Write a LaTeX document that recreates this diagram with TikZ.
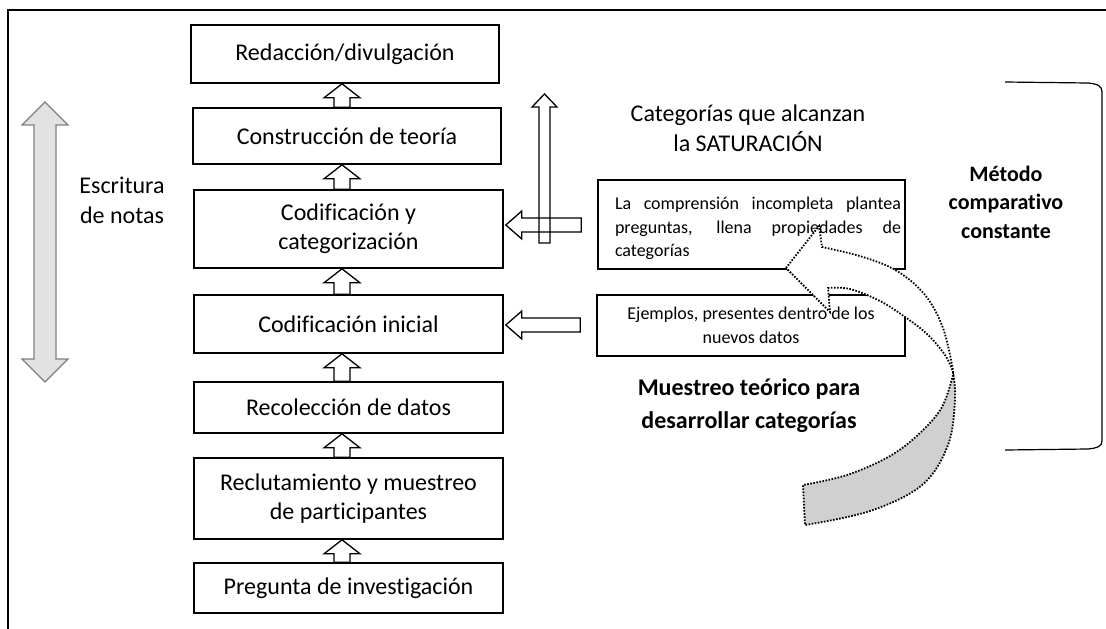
\documentclass[tikz,border=0pt]{standalone}
\usepackage{fontspec}
\setmainfont{Carlito}[Ligatures={NoCommon}]
\usetikzlibrary{calc}
\definecolor{bandgray}{RGB}{208,208,208}
\definecolor{sidefill}{RGB}{226,226,226}
\definecolor{sidedraw}{RGB}{128,128,128}
\newcommand{\upblock}[2]{% #1 lower box, #2 upper box
  \draw[blockarrow] let \p1=(#1.north), \p2=(#2.south) in
    (334pt,\y1) -- (334pt,\y2-14pt) -- (324pt,\y2-14pt) -- (342pt,\y2)
    -- (360pt,\y2-14pt) -- (350pt,\y2-14pt) -- (350pt,\y1) -- cycle;}
\newcommand{\leftblock}[3]{% #1 source box, #2 target box, #3 y
  \draw[blockarrow] let \p1=(#2.east), \p2=(#1.west) in
    (\x2-16pt,-#3pt+7pt) -- (\x1+18pt,-#3pt+7pt) -- (\x1+18pt,-#3pt+14pt)
    -- (\x1+2pt,-#3pt) -- (\x1+18pt,-#3pt-14pt) -- (\x1+18pt,-#3pt-7pt)
    -- (\x2-16pt,-#3pt-7pt) -- cycle;}
\begin{document}
\begin{tikzpicture}[x=1pt,y=-1pt,
  box/.style={draw,line width=1.6pt,inner sep=0pt,align=center,
    font=\fontsize{24}{29}\selectfont},
  sidebox/.style={draw,line width=1.6pt,inner sep=0pt,
    font=\fontsize{18}{23.5}\selectfont},
  blockarrow/.style={draw,line width=1.3pt,line join=miter},
  dotline/.style={line width=1.8pt,dash pattern=on 1.6pt off 1.5pt},
  lbl/.style={align=center,inner sep=0pt}]
\useasboundingbox (0,0) rectangle (1106,629);
% frame
\draw[line width=1.6pt] (8,629) -- (8,10) -- (1106,10);

% main column
\node[box,minimum width=308pt,minimum height=58pt] (red) at (345,54) {Redacción/divulgación};
\node[box,minimum width=308pt,minimum height=56pt] (con) at (347,136) {Construcción de teoría};
\node[box,minimum width=309pt,minimum height=78pt] (cat) at (348.5,229) {Codificación y\\categorización};
\node[box,minimum width=309pt,minimum height=58pt] (ini) at (348.5,324) {Codificación inicial};
\node[box,minimum width=309pt,minimum height=51pt] (rec) at (348.5,407.5) {Recolección de datos};
\node[box,minimum width=309pt,minimum height=81pt] (rcl) at (348.5,498.5) {Reclutamiento y muestreo\\de participantes};
\node[box,minimum width=309pt,minimum height=50pt] (pre) at (348.5,588) {Pregunta de investigación};

\upblock{con}{red}
\upblock{cat}{con}
\upblock{ini}{cat}
\upblock{rec}{ini}
\upblock{rcl}{rec}
\upblock{pre}{rcl}

% right boxes
\node[sidebox,minimum width=307pt,minimum height=89pt] (cmp) at (751.5,224.5)
  {\hspace*{13pt}\raisebox{-4pt}[\height][\depth]{\parbox[c]{286pt}{La comprensión incompleta plantea\linebreak
   preguntas, llena propiedades de\linebreak categorías}}};
\node[sidebox,minimum width=308pt,minimum height=61pt,align=center,
  font=\fontsize{18}{24}\selectfont] (eje) at (751,325.5)
  {Ejemplos, presentes dentro de los\\nuevos datos};

\leftblock{cmp}{cat}{225}
\leftblock{eje}{ini}{325}

% saturation arrow
\coordinate (satbot) at (544.5,243);
\coordinate (sattop) at (544.5,94);
\draw[blockarrow] let \p1=(satbot), \p2=(sattop) in
  (\x1-5.5pt,\y1) -- (\x1-5.5pt,\y2-13pt) -- (\x1-12.5pt,\y2-13pt) -- (\x2,\y2)
  -- (\x1+12.5pt,\y2-13pt) -- (\x1+5.5pt,\y2-13pt) -- (\x1+5.5pt,\y1) -- cycle;

% side double arrow
\filldraw[fill=sidefill,draw=sidedraw,line width=1.2pt,line join=miter]
  (45,102) -- (68,125) -- (56,125) -- (56,359) -- (68,359) -- (45,382)
  -- (22,359) -- (34,359) -- (34,125) -- (22,125) -- cycle;

% labels
\node[lbl,font=\fontsize{24}{30}\selectfont] (esc) at (122,200) {Escritura\\de notas};
\node[lbl,font=\fontsize{24}{30}\selectfont] (satl) at (748,128) {Categorías que alcanzan\\la SATURACIÓN};
\node[lbl,font=\bfseries\fontsize{24}{33}\selectfont] (mue) at (749,406) {Muestreo teórico para\\desarrollar categorías};
\node[lbl,font=\bfseries\fontsize{22}{28.5}\selectfont] (met) at (1006,202) {Método\\comparativo\\constante};

% bracket
\draw[line width=1.2pt] (1005,82) -- (1088,83) .. controls (1098,84) and (1102,86) .. (1102,92)
  -- (1102,441) .. controls (1102,446) and (1098,448) .. (1088,449) -- (1005,450);

% curved arrow: back (gray) part
\filldraw[fill=bandgray,dotline]
  plot[smooth,tension=0.6] coordinates {(953,372) (955,400) (948,445) (922,485) (870,511) (805,525)}
  -- (803,485)
  -- plot[smooth,tension=0.6] coordinates {(803,485) (847,475) (890,456) (920,433) (942,407) (953,375)}
  -- cycle;
% curved arrow: front (white) part with head
\filldraw[fill=white,dotline]
  (786,268) -- (819,226) -- (822,247)
  -- plot[smooth,tension=0.6] coordinates {(822,247) (863,257) (897,271) (925,295) (943,328) (953,370)}
  -- plot[smooth,tension=0.6] coordinates {(953,372) (945,355) (927,334) (905,317) (880,301) (850,289) (828,288)}
  -- (830,312) -- cycle;
\end{tikzpicture}
\end{document}
